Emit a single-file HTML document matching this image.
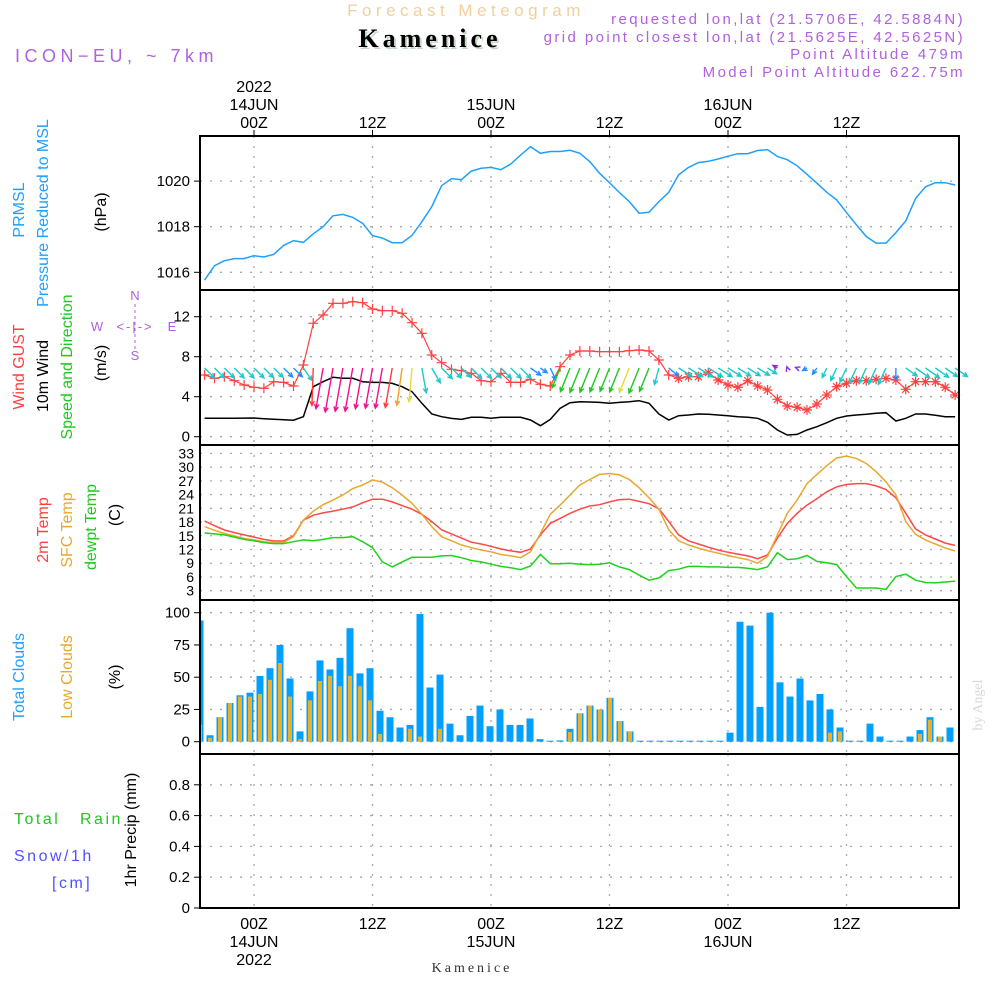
<!DOCTYPE html>
<html><head><meta charset="utf-8"><style>
html,body{margin:0;padding:0;background:#fff;}
svg{display:block;font-family:"Liberation Sans",sans-serif;}
</style></head><body>
<svg id="chart" width="1000" height="1000" viewBox="0 0 1000 1000" xmlns="http://www.w3.org/2000/svg">
<rect x="0" y="0" width="1000" height="1000" fill="#fff"/>
<text x="466" y="16" text-anchor="middle" font-size="17" fill="#f0d09c" letter-spacing="4.5">Forecast Meteogram</text>
<text x="432" y="49" text-anchor="middle" font-size="26" font-weight="bold" font-family="Liberation Serif,serif" fill="#c8d8c8" letter-spacing="4">Kamenice</text>
<text x="430" y="47" text-anchor="middle" font-size="26" font-weight="bold" font-family="Liberation Serif,serif" fill="#000" letter-spacing="4">Kamenice</text>
<text x="15" y="62" font-size="18" fill="#b060e0" letter-spacing="4.5">ICON−EU, ~ 7km</text>
<g font-size="15" fill="#b060e0" text-anchor="end" letter-spacing="2.4">
<text x="965" y="24">requested lon,lat (21.5706E, 42.5884N)</text>
<text x="965" y="42">grid point closest lon,lat (21.5625E, 42.5625N)</text>
<text x="965" y="59">Point Altitude 479m</text>
<text x="965" y="77">Model Point Altitude 622.75m</text>
</g>
<g id="labels" font-size="15"></g>
<g id="grid"></g>
<g id="marks"></g>
<g id="frame"></g>
<text transform="translate(982,705) rotate(-90)" text-anchor="middle" font-size="14" font-family="Liberation Serif,serif" fill="#d8d8d8">by Angel</text>
<text x="472" y="972" text-anchor="middle" font-size="14" font-family="Liberation Serif,serif" fill="#333" letter-spacing="3">Kamenice</text>
</svg>
<script>
// ---- data (hourly, t = 1..77 hours since 18Z 13JUN) ----
const pressure = [1015.66,1016.29,1016.51,1016.6,1016.6,1016.73,1016.67,1016.79,1017.18,1017.39,1017.31,1017.69,1018.0,1018.48,1018.54,1018.41,1018.15,1017.61,1017.5,1017.3,1017.3,1017.62,1018.22,1018.88,1019.8,1020.11,1020.06,1020.44,1020.56,1020.6,1020.5,1020.75,1021.14,1021.51,1021.22,1021.3,1021.3,1021.35,1021.22,1020.85,
1020.34,1019.93,1019.5,1019.1,1018.59,1018.63,1019.1,1019.51,1020.27,1020.6,1020.81,1020.87,1020.97,1021.09,1021.2,1021.2,1021.34,1021.38,1021.08,1020.94,1020.67,1020.3,1019.91,1019.51,1019.18,1018.62,1018.08,1017.57,1017.28,1017.28,1017.74,1018.26,1019.24,1019.75,1019.93,1019.93,1019.83];
const wind10 = [1.85,1.85,1.85,1.85,1.86,1.87,1.8,1.75,1.7,1.65,2.0,5.0,5.5,5.94,5.84,5.84,5.5,5.43,5.43,5.33,5.0,4.5,3.34,2.27,2.0,1.83,1.73,1.94,1.94,1.84,1.94,1.94,1.94,1.67,1.1,1.73,2.84,3.4,3.5,3.47,
3.43,3.34,3.43,3.5,3.6,3.34,2.27,1.67,2.1,2.17,2.27,2.24,2.17,2.1,2.0,1.94,1.84,1.44,0.67,0.17,0.23,0.67,1.0,1.4,1.84,2.07,2.17,2.24,2.34,2.4,1.57,1.84,2.27,2.27,2.14,2.0,2.0];
const gust = [6.17,5.84,6.0,5.6,5.17,4.94,4.84,5.5,5.43,5.07,7.17,11.34,12.17,13.34,13.34,13.5,13.4,12.77,12.6,12.6,12.34,11.4,10.34,8.17,7.4,6.74,6.6,6.34,5.6,5.5,6.34,5.43,5.43,5.74,5.24,5.07,7.0,8.17,8.57,8.57,
8.5,8.5,8.5,8.6,8.67,8.57,7.67,6.17,5.84,6.0,6.0,6.4,5.67,5.17,4.94,5.6,5.07,4.67,3.74,3.07,2.94,2.67,3.27,4.17,5.0,5.34,5.6,5.6,5.74,5.84,5.67,4.74,5.5,5.5,5.5,4.94,4.17];
const windDir = [45,45,45,45,45,45,45,45,45,45,55,92,100,100,100,100,100,100,100,100,98,95,80,60,45,45,45,45,45,45,45,45,45,35,35,65,112,112,112,112,
112,112,112,112,112,112,105,40,32,32,32,32,32,32,32,32,32,32,210,250,200,150,125,115,115,115,115,115,115,115,90,35,35,35,35,35,35];
const windCat = ["c","c","c","c","c","c","c","c","b","b","c","r","m","m","m","m","m","m","m","r","o","y","c","c","c","c","c","c","c","c","c","c","c","b","b","b","g","g","g","g",
"g","g","g","y","g","g","c","b","c","c","c","c","c","c","c","c","c","c","p","p","p","b","b","c","c","c","c","c","c","c","b","c","c","c","c","c","c"];
const temp2m = [18.2,17.2,16.26,15.7,15.2,14.7,14.2,13.85,13.85,15.0,18.4,19.5,20.0,20.4,20.8,21.3,22.2,23.0,23.0,22.4,21.6,20.8,19.7,18.1,16.3,15.4,14.5,13.6,13.2,12.7,12.1,11.7,11.4,12.1,15.2,17.7,18.8,19.9,20.8,21.5,
21.8,22.4,22.9,23.0,22.5,22.0,20.9,18.1,15.2,13.9,13.2,12.5,11.9,11.4,11.0,10.6,10.0,10.8,14.5,17.7,19.9,21.7,23.1,24.6,25.7,26.2,26.4,26.4,25.9,25.1,23.3,19.9,16.5,15.2,14.3,13.4,12.9];
const tempSfc = [17.0,16.2,15.5,15.0,14.4,14.1,13.7,13.5,13.5,14.8,18.4,20.4,21.8,22.8,23.9,25.3,26.1,27.2,26.7,25.5,23.9,22.1,19.7,17.0,14.8,13.9,13.0,12.4,11.9,11.5,10.9,10.6,10.2,11.5,15.5,19.7,21.7,23.9,26.1,27.3,
28.4,28.6,28.3,27.3,25.5,23.3,20.8,16.3,13.9,13.0,12.3,11.7,11.2,10.7,10.2,9.8,9.0,10.5,15.2,19.9,22.8,26.4,28.4,30.3,32.0,32.4,31.9,30.8,29.0,26.8,23.9,18.1,15.3,14.1,13.2,12.3,11.7];
const tempDew = [15.6,15.4,15.2,14.7,14.2,13.9,13.5,13.3,13.3,13.7,14.1,13.9,14.2,14.6,14.6,14.8,13.7,12.4,9.3,8.2,9.3,10.3,10.3,10.3,10.6,10.7,10.2,9.6,9.3,8.8,8.3,8.0,7.6,8.4,10.9,8.9,8.9,9.0,8.8,8.7,
8.8,9.1,8.2,7.6,6.4,5.3,5.8,7.4,7.7,8.3,8.3,8.2,8.2,8.1,8.1,7.9,7.6,8.2,11.3,9.8,10.0,10.7,9.4,9.1,8.7,6.1,3.6,3.6,3.6,3.3,6.1,6.6,5.3,4.8,4.7,4.9,5.1];
const cloudTotal = [94,5,19,30,36,38,51,57,75,49,8,39,63,56,65,88,53,57,24,19,11,13,99,42,52,14,5,20,28,12,25,13,13,18,2,0.5,1,10,22,28,
25,34,16,8,0,0,0,0,0,0,0,0,0,7,93,90,27,100,46,35,49,32,37,25,11,0,0,14,4,0,0,4,9,19,4,11];
const cloudLow = [13,3,19,30,35,35,37,48,61,35,2,32,47,51,43,51,43,32,6,0,0,10,4,0,10,0,0,0,0,0,0,0,0,0,0,0,0,7.5,22,28,
25,34,16,8,0,0,0,0,0,0,0,0,0,0,0,0,0,0,0,0,0,0,0,7,8,0,0,0,0,0,0,0,6,17,4,0];
const precip = new Array(76).fill(0);
const pTicks = [1016,1018,1020];
const wTicks = [0,4,8,12];
const tTicks = [3,6,9,12,15,18,21,24,27,30,33];
const cTicks = [0,25,50,75,100];
const rTicks = [0,0.2,0.4,0.6,0.8];
const timeTicks = [6,18,30,42,54,66];
const timeLabels = ["00Z","12Z","00Z","12Z","00Z","12Z"];
const dateLabels = ["14JUN","","15JUN","","16JUN",""];

// ---- scales ----
const X = t => 254 + (t-6)*9.875;
const XB = k => 200 + k*10;
const yP = p => 272.3 - (p-1016)*22.8;
const yW = v => 436.7 - v*10;
const yT = T => 590.7 - (T-3)*4.577;
const yC = c => 741.7 - c*1.29;
const yR = r => 908 - r*154;
const L = 200, R = 959;
const panels = [[136,290],[290,445],[445,600],[600,754],[754,908]];
const colors = {c:"#1ec8c8",b:"#1e90ff",m:"#f0108c",r:"#ff3c3c",o:"#f0a028",y:"#e6dc32",g:"#1ec81e",p:"#8c28e6"};
const NS = "http://www.w3.org/2000/svg";
function mk(tag, attrs, parent){const e=document.createElementNS(NS,tag);for(const k in attrs)e.setAttribute(k,attrs[k]);parent.appendChild(e);return e;}
const gGrid=document.getElementById('grid'), gMarks=document.getElementById('marks'), gFrame=document.getElementById('frame'), gLab=document.getElementById('labels');

const dotted={stroke:"#a8a8a8","stroke-width":1.3,"stroke-dasharray":"2 8"};
function hgrid(vals, f, name){vals.forEach(v=>{const y=f(v);const l=mk('line',Object.assign({x1:L,x2:R,y1:y,y2:y},dotted),gGrid);


const tk=mk('line',{x1:194,x2:L,y1:y,y2:y,stroke:"#000"},gFrame);


const tx=mk('text',{x:190,y:y+5,"text-anchor":"end","font-size":15,fill:"#000"},gLab);tx.textContent=String(v);

});}
hgrid(pTicks,yP,'pressure-y');hgrid(wTicks,yW,'wind-y');hgrid(cTicks,yC,'cloud-y');hgrid(rTicks,yR,'precip-y');
tTicks.forEach(v=>{const y=yT(v);const l=mk('line',Object.assign({x1:L,x2:R,y1:y,y2:y},dotted),gGrid);


const tx=mk('text',{x:194,y:y+5,"text-anchor":"end","font-size":14,fill:"#000"},gLab);tx.textContent=String(v);

});
timeTicks.forEach((t,i)=>{const x=X(t);
panels.forEach(p=>{const l=mk('line',Object.assign({x1:x,x2:x,y1:p[0],y2:p[1]},dotted),gGrid);

});
const tk=mk('line',{x1:x,x2:x,y1:130,y2:136,stroke:"#000"},gFrame);


const a=mk('text',{x:x,y:128,"text-anchor":"middle","font-size":16,fill:"#000"},gLab);a.textContent=timeLabels[i];


const b=mk('text',{x:x,y:929,"text-anchor":"middle","font-size":16,fill:"#000"},gLab);b.textContent=timeLabels[i];


if(dateLabels[i]){const c=mk('text',{x:x,y:110,"text-anchor":"middle","font-size":16,fill:"#000"},gLab);c.textContent=dateLabels[i];


const d=mk('text',{x:x,y:947,"text-anchor":"middle","font-size":16,fill:"#000"},gLab);d.textContent=dateLabels[i];

}
});
[[X(6),92],[X(6),965]].forEach(p=>{const e=mk('text',{x:p[0],y:p[1],"text-anchor":"middle","font-size":16,fill:"#000"},gLab);e.textContent="2022";

});

function line(arr,f,color,name,w){const d=arr.map((v,i)=>(i?'L':'M')+X(i+1).toFixed(1)+' '+f(v).toFixed(1)).join(' ');
const p=mk('path',{d:d,fill:"none",stroke:color,"stroke-width":w||1.5},gMarks);

}

line(pressure,yP,"#1ea0ff",'pressure-line',1.5);
line(wind10,yW,"#000",'wind-10m-line',1.5);
line(gust,yW,"#ff4040",'wind-gust-line',1.2);
gust.forEach((v,i)=>{const x=X(i+1),y=yW(v),s=5;
const g=mk('path',{d:`M${x-s} ${y}L${x+s} ${y}M${x} ${y-s}L${x} ${y+s}`+(i>=48?`M${x-3.5} ${y-3.5}L${x+3.5} ${y+3.5}M${x-3.5} ${y+3.5}L${x+3.5} ${y-3.5}`:''),stroke:"#ff4040","stroke-width":1.2,fill:"none"},gMarks);

});
wind10.forEach((v,i)=>{const x0=X(i+1),y0=368,len=7.5*v,a=windDir[i]*Math.PI/180;
const x1=x0+len*Math.cos(a),y1=y0+len*Math.sin(a);
const h=5,b1=a+Math.PI-0.45,b2=a+Math.PI+0.45;
const d=`M${x0} ${y0}L${x1} ${y1}M${x1+h*Math.cos(b1)} ${y1+h*Math.sin(b1)}L${x1} ${y1}L${x1+h*Math.cos(b2)} ${y1+h*Math.sin(b2)}`;
const p=mk('path',{d:d,stroke:colors[windCat[i]],"stroke-width":1.4,fill:"none"},gMarks);

});
line(temp2m,yT,"#ff4848",'temp-2m-line',1.5);
line(tempSfc,yT,"#e8a830",'temp-sfc-line',1.5);
line(tempDew,yT,"#1ed21e",'dewpoint-line',1.5);
cloudTotal.forEach((v,k)=>{const x=XB(k),y=yC(v),h=Math.max(1,741.7-y);
const r=mk('rect',{x:Math.max(L,x-3.5),y:741.7-h,width:x-3.5<L?x+3.5-L:7,height:h,fill:"#00a0ff"},gMarks);

});
cloudLow.forEach((v,k)=>{if(v<=0)return;const x=XB(k),y=yC(v);
const r=mk('rect',{x:Math.max(L,x-2),y:y,width:x-2<L?x+2-L:4,height:741.7-y,fill:"#e8b030"},gMarks);

});
{const d=precip.map((v,k)=>(k?'L':'M')+XB(k)+' '+yR(v)).join(' ');
const p=mk('path',{d:d,stroke:"#000","stroke-width":1.3,"stroke-dasharray":"4 3",fill:"none"},gMarks);

}

panels.forEach((p,i)=>{const r=mk('rect',{x:L,y:p[0],width:R-L,height:p[1]-p[0],fill:"none",stroke:"#000","stroke-width":2},gFrame);

});

function vt(txt,x,y,color,name,size){const e=mk('text',{transform:`translate(${x},${y}) rotate(-90)`,"text-anchor":"middle","font-size":size||16,fill:color},gLab);e.textContent=txt;

}
vt("PRMSL",24,210,"#1ea0ff",'pressure-title-1');
vt("Pressure Reduced to MSL",48,213,"#1ea0ff",'pressure-title-2');
vt("(hPa)",106,212,"#000",'pressure-unit');
vt("Wind GUST",24,367,"#ff4040",'gust-title');
vt("10m Wind",48,376,"#000",'wind-title');
vt("Speed and Direction",72,367,"#1ec81e",'wind-dir-title');
vt("(m/s)",106,363,"#000",'wind-unit');
vt("2m Temp",48,530,"#ff4040",'temp2m-title');
vt("SFC Temp",72,530,"#e8a830",'tempsfc-title');
vt("dewpt Temp",96,527,"#1ec81e",'dewpt-title');
vt("(C)",120,515,"#000",'temp-unit');
vt("Total Clouds",24,677,"#1ea0ff",'total-clouds-title');
vt("Low Clouds",72,677,"#e8a830",'low-clouds-title');
vt("(%)",120,677,"#000",'cloud-unit');
vt("1hr Precip (mm)",136,830,"#000",'precip-title');
const hz=[["Total",14,824,"#1ec81e",'rain-label-total'],["Rain",80,824,"#1ec81e",'rain-label-rain'],["Snow/1h",14,861,"#5050ff",'snow-label'],["[cm]",52,888,"#5050ff",'cm-label']];
hz.forEach(h=>{const e=mk('text',{x:h[1],y:h[2],"font-size":16,fill:h[3],"letter-spacing":2.5},gLab);e.textContent=h[0];

});
{const g=mk('g',{fill:"#b060e0","font-size":13,"text-anchor":"middle"},gLab);


[["N",135,300],["W",97,331],["E",172,331],["S",135,360]].forEach(c=>{const t=mk('text',{x:c[1],y:c[2]},g);t.textContent=c[0];});
const t2=mk('text',{x:135,y:331,"letter-spacing":2},g);t2.textContent="<-|->";
mk('line',{x1:135,y1:304,x2:135,y2:350,stroke:"#b060e0","stroke-dasharray":"3 3"},g);}
</script>
</body></html>
